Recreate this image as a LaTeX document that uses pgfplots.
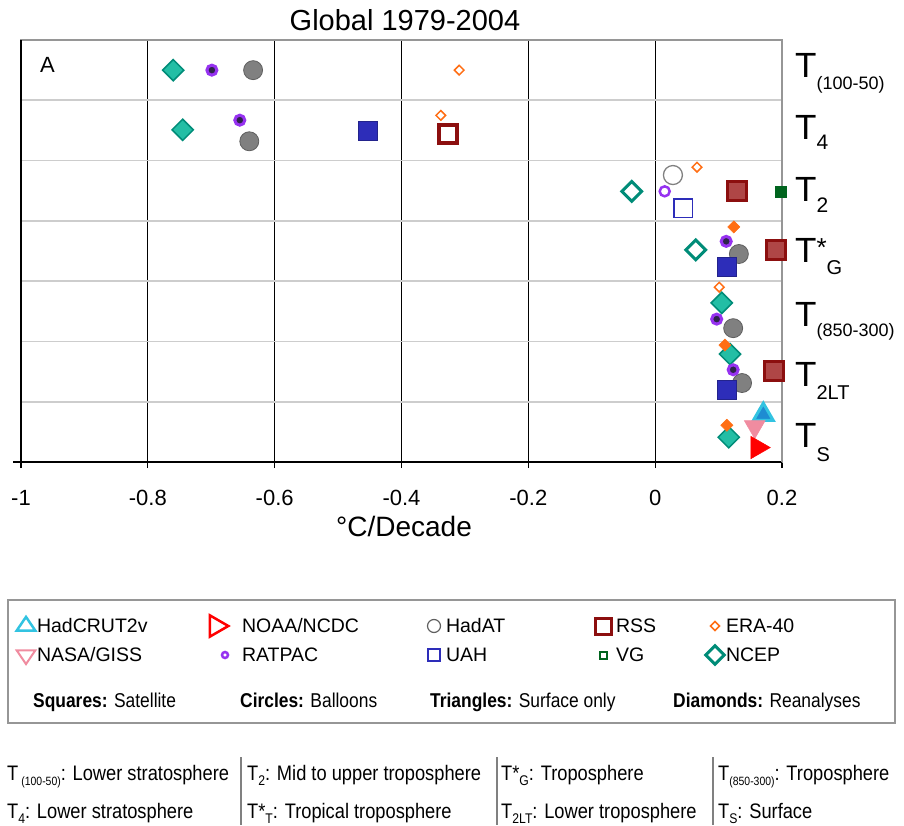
\documentclass[border=0pt]{standalone}
\usepackage{pgfplots}
\pgfplotsset{compat=1.18}
\usepackage{fontspec}
\setmainfont{Liberation Sans}
\newfontfamily\narrow[FakeStretch=0.87]{Liberation Sans}

\definecolor{ncepd}{RGB}{0,140,120}
\definecolor{ncepf}{RGB}{35,190,165}
\definecolor{ratp}{RGB}{150,50,240}
\definecolor{ratpc}{RGB}{45,35,75}
\definecolor{hadat}{RGB}{128,128,128}
\definecolor{hadatd}{RGB}{95,95,95}
\definecolor{era}{RGB}{255,110,20}
\definecolor{uahf}{RGB}{45,45,185}
\definecolor{uahd}{RGB}{35,35,140}
\definecolor{rssd}{RGB}{140,15,15}
\definecolor{rssf}{RGB}{175,70,70}
\definecolor{vg}{RGB}{0,100,30}
\definecolor{hadc}{RGB}{50,195,225}
\definecolor{hadcf}{RGB}{30,140,210}
\definecolor{giss}{RGB}{240,140,160}
\definecolor{noaa}{RGB}{255,0,0}
\definecolor{gridg}{RGB}{205,205,205}
\definecolor{boxg}{RGB}{150,150,150}

\newcommand{\fs}[1]{\fontsize{#1}{#1}\selectfont}
% lowered subscript: drop, size, text
\newcommand{\lo}[3]{\raisebox{-#1pt}{\fs{#2}#3}}

\begin{document}
\begin{tikzpicture}[x=1pt,y=1pt]
\useasboundingbox (0,0) rectangle (904,825);
\begin{axis}[
  at={(21pt,363pt)}, anchor=south west,
  scale only axis, width=761pt, height=422pt,
  xmin=-1, xmax=0.2, ymin=0, ymax=7,
  clip=false,
  axis line style={draw=boxg, line width=1.3pt},
  xtick={-1,-0.8,-0.6,-0.4,-0.2,0,0.2},
  xticklabels={-1,-0.8,-0.6,-0.4,-0.2,0,0.2},
  xtick pos=lower, tick align=center, major tick length=12pt,
  x tick style={black, line width=1.2pt},
  xmajorgrids, major x grid style={black, line width=1.2pt},
  ytick={1,2,3,4,5,6}, yticklabels={}, ymajorgrids,
  major y grid style={gridg, line width=1.8pt},
  y tick style={draw=none},
  xticklabel style={font=\fs{22}, anchor=base, yshift=-37pt},
  legend image code/.code={\path[draw=none,fill=none] (0pt,-5pt) rectangle (22pt,17pt); \draw[#1] plot coordinates {(11pt,6pt)};},
  legend columns=5,
  legend style={at={(-0.00788,-0.36256)}, anchor=north west, draw=none, fill=none,
    inner sep=0pt, outer sep=0pt, column sep=0pt, row sep=7pt,
    font=\fs{19.5}, nodes={inner sep=0pt, outer sep=0pt, anchor=base west}},
]
\draw[black, line width=1.3pt] (rel axis cs:0,1) -- (rel axis cs:0,0) -- (axis cs:0.2,0);
\draw[black, line width=1.3pt] (axis cs:-1.0126,0) -- (axis cs:-1,0);
\draw[boxg, line width=1.3pt] (rel axis cs:1,0) -- (rel axis cs:1,1);

% HadAT
\addplot[only marks, mark=*, mark size=9.5pt, mark options={fill=hadat, draw=hadatd, line width=0.8pt}, forget plot]
  coordinates {(-0.634,6.50) (-0.640,5.32) (0.132,3.45) (0.123,2.22) (0.137,1.31)};
\addplot[only marks, mark=*, mark size=9.5pt, mark options={fill=white, draw=hadat, line width=1.3pt}, forget plot]
  coordinates {(0.028,4.76)};
% NCEP
\addplot[only marks, mark=square*, mark size=7.5pt, mark options={rotate=45, fill=ncepf, draw=ncepd, line width=1.5pt}, forget plot]
  coordinates {(-0.760,6.50) (-0.745,5.51) (0.105,2.64) (0.118,1.79) (0.116,0.41)};
\addplot[only marks, mark=square*, mark size=7pt, mark options={rotate=45, fill=white, draw=ncepd, line width=3pt}, forget plot]
  coordinates {(-0.037,4.49) (0.064,3.52)};
% ERA-40
\addplot[only marks, mark=square*, mark size=3.4pt, mark options={rotate=45, fill=white, draw=era, line width=1.5pt}, forget plot]
  coordinates {(-0.309,6.50) (-0.338,5.75) (0.066,4.89) (0.101,2.90)};
\addplot[only marks, mark=square*, mark size=4.3pt, mark options={rotate=45, fill=era, draw=era, line width=0.5pt}, forget plot]
  coordinates {(0.124,3.90) (0.110,1.94) (0.113,0.61)};
% RATPAC
\addplot[only marks, mark=*, mark size=5pt, mark options={fill=ratpc, draw=ratp, line width=3pt}, forget plot]
  coordinates {(-0.699,6.50) (-0.655,5.67) (0.112,3.66) (0.097,2.37) (0.123,1.53)};
\addplot[only marks, mark=*, mark size=5pt, mark options={fill=white, draw=ratp, line width=2.5pt}, forget plot]
  coordinates {(0.015,4.49)};
% UAH
\addplot[only marks, mark=square*, mark size=9.5pt, mark options={fill=uahf, draw=uahd, line width=1pt}, forget plot]
  coordinates {(-0.453,5.49) (0.113,3.23) (0.113,1.19)};
\addplot[only marks, mark=square*, mark size=9.3pt, mark options={fill=white, draw=uahf, line width=1.5pt}, forget plot]
  coordinates {(0.044,4.21)};
% RSS
\addplot[only marks, mark=square*, mark size=9pt, mark options={fill=white, draw=rssd, line width=3.5pt}, forget plot]
  coordinates {(-0.327,5.44)};
\addplot[only marks, mark=square*, mark size=9.5pt, mark options={fill=rssf, draw=rssd, line width=3pt}, forget plot]
  coordinates {(0.129,4.49) (0.190,3.52) (0.187,1.51)};
% VG
\addplot[only marks, mark=square*, mark size=5.5pt, mark options={fill=vg, draw=vg, line width=0.5pt}, forget plot]
  coordinates {(0.198,4.49)};
% surface
\addplot[only marks, mark=triangle*, mark size=11.5pt, mark options={fill=hadcf, draw=hadc, line width=3pt}, forget plot]
  coordinates {(0.1705,0.785)};
\addplot[only marks, mark=triangle*, mark size=12pt, mark options={rotate=180, fill=giss, draw=giss, line width=0.5pt}, forget plot]
  coordinates {(0.157,0.585)};
\addplot[only marks, mark=triangle*, mark size=13pt, mark options={rotate=-90, fill=noaa, draw=noaa, line width=0.5pt}, forget plot]
  coordinates {(0.161,0.24)};

% legend
\addlegendimage{mark=triangle, mark size=10.7pt, color=hadc, line width=2.5pt, mark options={yscale=0.85}}
\addlegendentry{\makebox[172pt][l]{HadCRUT2v}}
\addlegendimage{mark=triangle, mark size=12.3pt, color=noaa, line width=2.5pt, mark options={xshift=-4pt, rotate=-90}}
\addlegendentry{\makebox[192pt][l]{\hspace{11pt}NOAA/NCDC}}
\addlegendimage{mark=o, mark size=6.5pt, color=hadatd, line width=1.2pt}
\addlegendentry{\makebox[147pt][l]{\hspace{1pt}HadAT}}
\addlegendimage{mark=square, mark size=8pt, color=rssd, line width=3pt}
\addlegendentry{\makebox[90pt][l]{\hspace{2pt}RSS}}
\addlegendimage{mark=square, mark size=3.2pt, color=era, line width=1.5pt, mark options={rotate=45}}
\addlegendentry{\makebox[100pt][l]{ERA-40}}
\addlegendimage{mark=triangle, mark size=10.7pt, color=giss, line width=2pt, mark options={yscale=0.85, rotate=180}}
\addlegendentry{\makebox[172pt][l]{NASA/GISS}}
\addlegendimage{mark=o, mark size=3pt, color=ratp, line width=2.5pt, mark options={xshift=5pt}}
\addlegendentry{\makebox[192pt][l]{\hspace{11pt}RATPAC}}
\addlegendimage{mark=square, mark size=6pt, color=uahf, line width=1.5pt}
\addlegendentry{\makebox[147pt][l]{\hspace{1pt}UAH}}
\addlegendimage{mark=square, mark size=3.5pt, color=vg, line width=2pt}
\addlegendentry{\makebox[90pt][l]{\hspace{2pt}VG}}
\addlegendimage{mark=square, mark size=6.5pt, color=ncepd, line width=3pt, mark options={rotate=45}}
\addlegendentry{\makebox[100pt][l]{NCEP}}
\end{axis}

% title, panel letter, axis label
\node[anchor=base, inner sep=0pt] at (405,794) {\fs{29}Global 1979-2004};
\node[anchor=base west, inner sep=0pt] at (40,752) {\fs{22}A};
\node[anchor=base, inner sep=0pt] at (404,288) {\fs{28}°C/Decade};

% row labels
\node[anchor=base west, inner sep=0pt] at (795,747) {\fs{35}T\lo{12}{18}{(100-50)}};
\node[anchor=base west, inner sep=0pt] at (795,685) {\fs{35}T\lo{10}{21}{4}};
\node[anchor=base west, inner sep=0pt] at (795,623) {\fs{35}T\lo{11}{21}{2}};
\node[anchor=base west, inner sep=0pt] at (795,562) {\fs{35}T\raisebox{6pt}{\fs{26}*}\lo{12}{20}{G}};
\node[anchor=base west, inner sep=0pt] at (795,498) {\fs{35}T\lo{10}{18}{(850-300)}};
\node[anchor=base west, inner sep=0pt] at (795,438) {\fs{35}T\lo{13}{20}{2LT}};
\node[anchor=base west, inner sep=0pt] at (795,377) {\fs{35}T\lo{14}{20}{S}};

% legend frame and shape key
\draw[boxg, line width=1.8pt] (8,225) rectangle (895,102);
\node[anchor=base west, inner sep=0pt] at (33,118) {\narrow\fs{20}\textbf{Squares:} Satellite};
\node[anchor=base west, inner sep=0pt] at (240,118) {\narrow\fs{20}\textbf{Circles:} Balloons};
\node[anchor=base west, inner sep=0pt] at (430,118) {\narrow\fs{20}\textbf{Triangles:} Surface only};
\node[anchor=base west, inner sep=0pt] at (673,118) {\narrow\fs{20}\textbf{Diamonds:} Reanalyses};

% level key
\draw[gray, line width=1.2pt] (241,68) -- (241,0);
\draw[gray, line width=1.2pt] (497,68) -- (497,0);
\draw[gray, line width=1.2pt] (713,68) -- (713,0);
\node[anchor=base west, inner sep=0pt] at (7,45) {\narrow\fs{21}T\hspace{3pt}\lo{5}{12}{(100-50)}: Lower stratosphere};
\node[anchor=base west, inner sep=0pt] at (247,45) {\narrow\fs{21}T\lo{5}{14}{2}: Mid to upper troposphere};
\node[anchor=base west, inner sep=0pt] at (501,45) {\narrow\fs{21}T*\lo{5}{14}{G}: Troposphere};
\node[anchor=base west, inner sep=0pt] at (718,45) {\narrow\fs{21}T\lo{5}{12}{(850-300)}: Troposphere};
\node[anchor=base west, inner sep=0pt] at (7,7) {\narrow\fs{21}T\lo{5}{14}{4}: Lower stratosphere};
\node[anchor=base west, inner sep=0pt] at (247,7) {\narrow\fs{21}T*\lo{5}{14}{T}: Tropical troposphere};
\node[anchor=base west, inner sep=0pt] at (501,7) {\narrow\fs{21}T\lo{5}{14}{2LT}: Lower troposphere};
\node[anchor=base west, inner sep=0pt] at (718,7) {\narrow\fs{21}T\lo{5}{14}{S}: Surface};
\end{tikzpicture}
\end{document}
